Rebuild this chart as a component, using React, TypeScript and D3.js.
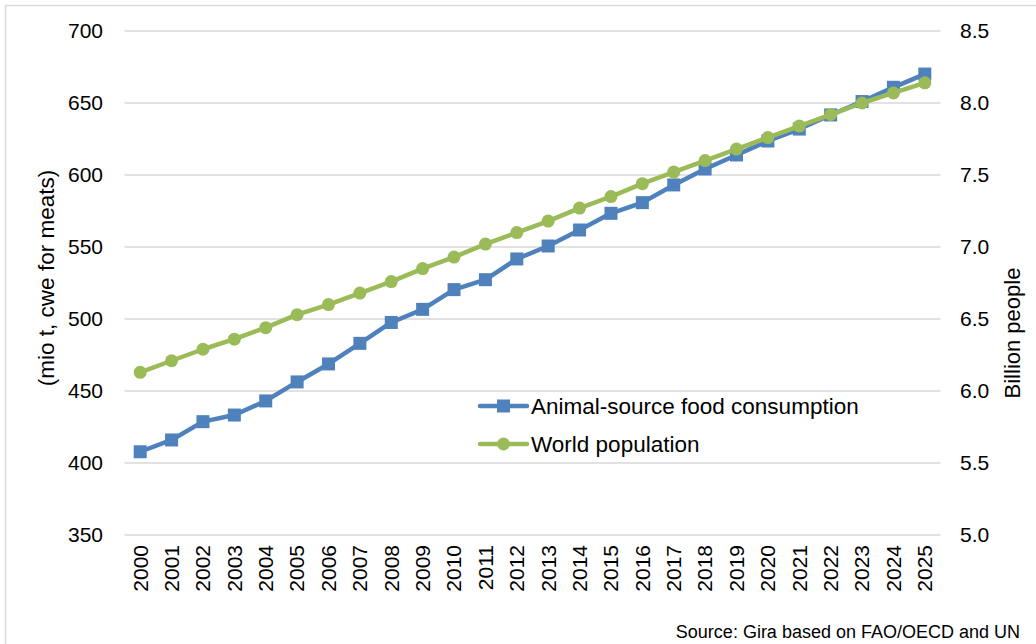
import React from "react";
import * as d3 from "d3";

const years = ["2000","2001","2002","2003","2004","2005","2006","2007","2008","2009","2010","2011","2012","2013","2014","2015","2016","2017","2018","2019","2020","2021","2022","2023","2024","2025"];
const animalFood = [407.8, 416, 428.7, 433.3, 443.1, 456.3, 468.8, 483.1, 497.6, 506.7, 520.4, 527.3, 541.7, 550.7, 561.8, 573.4, 580.8, 593.1, 604.2, 613.9, 623.6, 631.9, 641.7, 651, 660.9, 670.1];
const population = [6.13, 6.21, 6.29, 6.36, 6.44, 6.53, 6.60, 6.68, 6.76, 6.85, 6.93, 7.02, 7.10, 7.18, 7.27, 7.35, 7.44, 7.52, 7.60, 7.68, 7.76, 7.84, 7.92, 8.00, 8.07, 8.14];
const leftTicks = [350, 400, 450, 500, 550, 600, 650, 700];
const rightTicks = [5.0, 5.5, 6.0, 6.5, 7.0, 7.5, 8.0, 8.5];
const seriesNames = ["Animal-source food consumption", "World population"];
const leftTitle = "(mio t, cwe for meats)";
const rightTitle = "Billion people";
const sourceText = "Source: Gira based on FAO/OECD and UN";

const BLUE = "#4F81BD";
const GREEN = "#9BBB59";
const GRID = "#D9D9D9";
const FONT = "'Liberation Sans', Arial, sans-serif";

export default function App() {
  const W = 1036, H = 644;
  const x = d3.scaleBand<string>().domain(years).range([124.5, 940.5]);
  const cx = (y: string) => (x(y) as number) + x.bandwidth() / 2;
  const yL = d3.scaleLinear().domain([350, 700]).range([535, 31]);
  const yR = d3.scaleLinear().domain([5, 8.5]).range([535, 31]);

  const blueLine = d3.line<number>().x((_, i) => cx(years[i])).y((d) => yL(d))(animalFood) as string;
  const greenLine = d3.line<number>().x((_, i) => cx(years[i])).y((d) => yR(d))(population) as string;

  const sq = 13;
  return (
    <svg width={W} height={H} style={{ position: "absolute", left: 0, top: 0, display: "block", background: "#fff" }} fontFamily={FONT}>
      <rect x={5.5} y={5.5} width={1100} height={700} fill="#fff" stroke={GRID} strokeWidth={1.5} />
      {leftTicks.map((t) => (
        <line key={"g" + t} x1={124.5} x2={940.5} y1={yL(t)} y2={yL(t)} stroke={GRID} strokeWidth={1.5} />
      ))}
      {leftTicks.map((t) => (
        <text key={"l" + t} x={103} y={yL(t)} dy="0.35em" textAnchor="end" fontSize={21} fill="#000">{t}</text>
      ))}
      {rightTicks.map((t) => (
        <text key={"r" + t} x={960} y={yR(t)} dy="0.35em" textAnchor="start" fontSize={21} fill="#000">{t.toFixed(1)}</text>
      ))}
      {years.map((yv) => (
        <text key={"x" + yv} transform={`translate(${cx(yv)},545) rotate(-90)`} dy="0.35em" textAnchor="end" fontSize={21} fill="#000">{yv}</text>
      ))}
      <text transform={`translate(46,278) rotate(-90)`} dy="0.35em" textAnchor="middle" fontSize={22.5} fill="#000">{leftTitle}</text>
      <text transform={`translate(1012,333) rotate(-90)`} dy="0.35em" textAnchor="middle" fontSize={22} fill="#000">{rightTitle}</text>

      <path d={blueLine} fill="none" stroke={BLUE} strokeWidth={4.5} strokeLinejoin="round" />
      {animalFood.map((v, i) => (
        <rect key={"b" + i} x={cx(years[i]) - sq / 2} y={yL(v) - sq / 2} width={sq} height={sq} fill={BLUE} />
      ))}
      <path d={greenLine} fill="none" stroke={GREEN} strokeWidth={4.5} strokeLinejoin="round" />
      {population.map((v, i) => (
        <circle key={"c" + i} cx={cx(years[i])} cy={yR(v)} r={6.5} fill={GREEN} />
      ))}

      <g>
        <line x1={480} x2={527} y1={406} y2={406} stroke={BLUE} strokeWidth={4.5} strokeLinecap="round" />
        <rect x={503.5 - sq / 2} y={406 - sq / 2} width={sq} height={sq} fill={BLUE} />
        <text x={531} y={406} dy="0.35em" fontSize={22.5} fill="#000">{seriesNames[0]}</text>
        <line x1={480} x2={527} y1={444} y2={444} stroke={GREEN} strokeWidth={4.5} strokeLinecap="round" />
        <circle cx={503.5} cy={444} r={6.5} fill={GREEN} />
        <text x={531} y={444} dy="0.35em" fontSize={22.5} fill="#000">{seriesNames[1]}</text>
      </g>
      <text x={1020} y={632} dy="0.35em" textAnchor="end" fontSize={18} fill="#000">{sourceText}</text>
    </svg>
  );
}
